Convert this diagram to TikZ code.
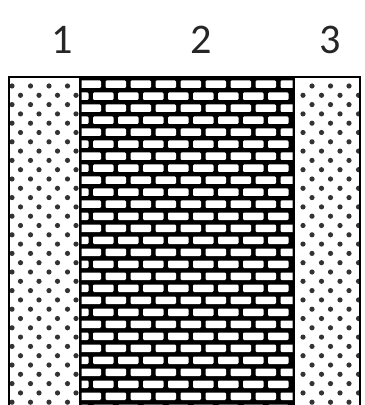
\documentclass[tikz,border=0pt]{standalone}
\usepackage{fontspec}
\setmainfont{Carlito}
\begin{document}
\begin{tikzpicture}[x=0.025cm,y=-0.025cm,
  numlabel/.style={font=\fontsize{30}{31}\selectfont,text=black!85,inner sep=0pt},
  dot/.style={fill=black!80},
  brick/.style={fill=white,rounded corners=0.8pt},
  border/.style={draw=black,line width=1.5pt}]
\useasboundingbox (0,0) rectangle (364,405);
% column numbers
\node[numlabel] (n1) at (62,40) {1};
\node[numlabel] (n2) at (201,40) {2};
\node[numlabel] (n3) at (330,40) {3};
% layer 1: dotted
\begin{scope}
  \clip (9,77) rectangle (80,405);
  \foreach \i in {0,...,35}
    \foreach \j in {0,...,4}
      \fill[dot] ({12+18.5*\j+8.5*mod(\i,2)},{86+9.3*\i}) circle[radius=0.065cm];
\end{scope}
% layer 2: bricks
\fill[black] (80,77) rectangle (294,405);
\begin{scope}
  \clip (81.5,78.5) rectangle (292.5,405);
  \foreach \r in {0,...,27}
    \foreach \k in {0,...,9}
      \fill[brick] ({80.5-12.5*mod(\r,2)+25*\k},{80.5+12*\r}) rectangle ++(20.5,7.5);
\end{scope}
% layer 3: dotted
\begin{scope}
  \clip (294,77) rectangle (360,405);
  \foreach \i in {0,...,35}
    \foreach \j in {0,...,4}
      \fill[dot] ({303+18.5*\j+9*(1-mod(\i,2))},{86+9.3*\i}) circle[radius=0.065cm];
\end{scope}
% outlines
\draw[border] (9,420) -- (9,77) -- (360,77) -- (360,420);
\draw[border] (80,77) -- (80,420);
\draw[border] (294,77) -- (294,420);
\end{tikzpicture}
\end{document}
